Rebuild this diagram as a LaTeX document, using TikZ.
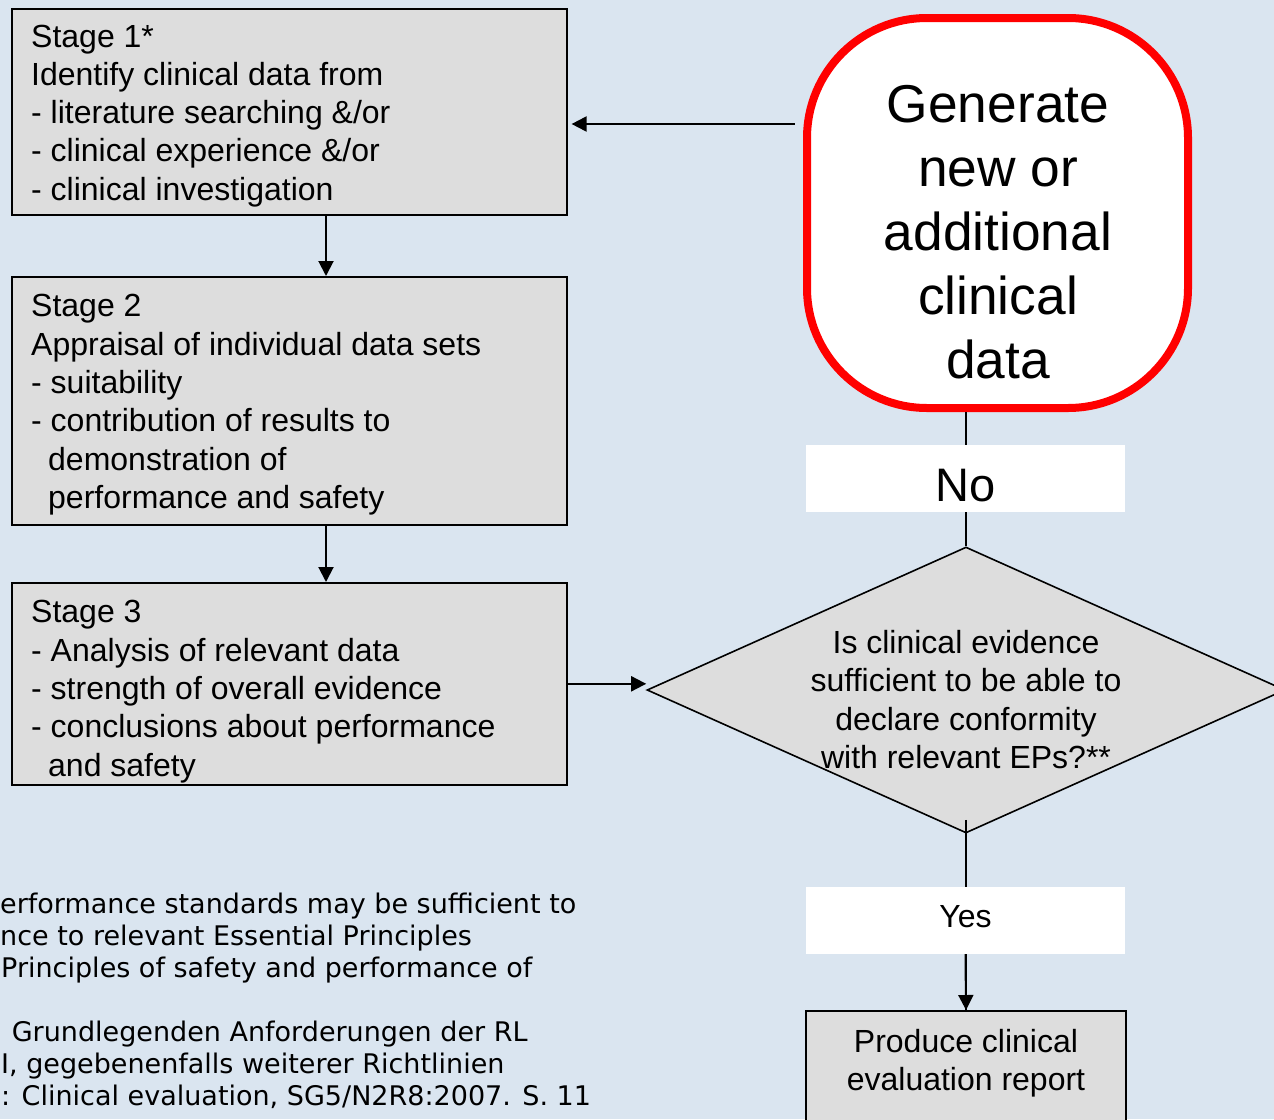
\documentclass[tikz,border=0pt]{standalone}
\usepackage{fontspec}
\setmainfont{Liberation Sans}
\newfontfamily\verd{DejaVu Sans}
\usetikzlibrary{shapes.geometric,arrows.meta,calc}
\definecolor{bgblue}{RGB}{218,229,240}
\definecolor{boxgray}{RGB}{221,221,221}
\definecolor{genred}{RGB}{255,0,0}
\begin{document}
\begin{tikzpicture}[x=1pt,y=-1pt,
  stagebox/.style={draw=black, line width=1.6pt, fill=boxgray, anchor=north west, minimum width=555pt, inner sep=0pt},
  stagetxt/.style={anchor=north west, inner sep=0pt, align=left, font=\fontsize{32}{38.3}\selectfont},
  genbox/.style={draw=genred, line width=8pt, fill=white, rounded corners=120pt, minimum width=381pt, minimum height=390pt, inner sep=0pt},
  gentxt/.style={inner sep=0pt, align=center, font=\fontsize{53.3}{64}\selectfont},
  decbox/.style={diamond, draw=black, line width=1.6pt, fill=boxgray, minimum width=638pt, minimum height=286pt, inner sep=0pt},
  dectxt/.style={inner sep=0pt, align=center, font=\fontsize{32}{38.3}\selectfont},
  lblbox/.style={fill=white, minimum width=319pt, minimum height=67pt, inner sep=0pt, text depth=0pt},
  repbox/.style={draw=black, line width=1.6pt, fill=boxgray, anchor=north, minimum width=320pt, minimum height=130pt, inner sep=0pt},
  fn/.style={anchor=base west, inner sep=0pt, font=\verd\fontsize{27}{32}\selectfont},
  arr/.style={line width=2pt, -{Triangle[length=15pt,width=15pt]}},
  thin/.style={line width=1.3pt}
]
\useasboundingbox (0,0) rectangle (1274,1119);
\clip (0,0) rectangle (1274,1119);
\fill[bgblue] (0,0) rectangle (1274,1119);

% stage boxes
\node[stagebox, minimum height=206pt] (s1) at (11,8) {};
\node[stagetxt] (s1t) at (31,24.5) {Stage 1*\\Identify clinical data from\\- literature searching \&/or\\- clinical experience \&/or\\- clinical investigation};
\node[stagebox, minimum height=248pt] (s2) at (11,276) {};
\node[stagetxt] (s2t) at (31,294.3) {Stage 2\\Appraisal of individual data sets\\- suitability\\- contribution of results to\\\hspace*{17pt}demonstration of\\\hspace*{17pt}performance and safety};
\node[stagebox, minimum height=202pt] (s3) at (11,582) {};
\node[stagetxt] (s3t) at (31,600.3) {Stage 3\\- Analysis of relevant data\\- strength of overall evidence\\- conclusions about performance\\\hspace*{17pt}and safety};

% generate box
\node[genbox] (gen) at (997.5,213) {};
\node[gentxt] (gent) at (998,232) {Generate\\new or\\additional\\clinical\\data};

% decision
\node[decbox] (dec) at (966,690) {};
\node[dectxt] (dect) at (966,699.5) {Is clinical evidence\\sufficient to be able to\\declare conformity\\with relevant EPs?**};

% report box
\node[repbox] (rep) at (966,1010) {};
\node[dectxt] (rept) at (966,1063) {Produce clinical\\evaluation report};

% helper coordinates
\coordinate (x326) at (326,0);
\coordinate (y124) at (0,124);

% connectors
\draw[arr, shorten <=8.5pt, shorten >=4pt] (gen.west |- y124) -- (s1.east |- y124);
\draw[arr] (s1.south -| x326) -- (s2.north -| x326);
\draw[arr] (s2.south -| x326) -- (s3.north -| x326);
\draw[arr] (s3.east) -- (s3.east -| dec.west);
\draw[thin] (gen.south -| dec.north) -- (dec.north);
\draw[thin, shorten <=-14pt] (dec.south) -- (rep.north);

% labels on top
\node[lblbox, text height=45pt, font=\fontsize{47}{56}\selectfont] (no) at (965.5,478.5) {No};
\node[lblbox, text height=14pt, font=\fontsize{32}{38}\selectfont] (yes) at (965.5,920.5) {Yes};
\draw[arr] (yes.south) -- (rep.north);

% footnote
\node[fn] (f1) at (0,913) {erformance standards may be sufficient to};
\node[fn] (f2) at (0,945) {nce to relevant Essential Principles};
\node[fn] (f3) at (1,977) {Principles of safety and performance of};
\node[fn] (f4) at (3,1041) {\ Grundlegenden Anforderungen der RL};
\node[fn] (f5) at (1,1073) {I, gegebenenfalls weiterer Richtlinien};
\node[fn] (f6) at (1,1105) {: Clinical evaluation, SG5/N2R8:2007. S. 11};
\end{tikzpicture}
\end{document}
